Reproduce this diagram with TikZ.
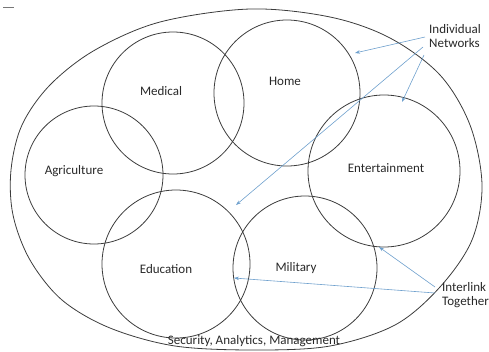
\documentclass[tikz,border=0pt]{standalone}
\usepackage{fontspec}
\setmainfont{Carlito}
\usetikzlibrary{arrows.meta}
\definecolor{ln}{RGB}{60,60,60}
\definecolor{arr}{RGB}{110,160,205}
\definecolor{txt}{RGB}{40,40,40}
\begin{document}
\begin{tikzpicture}[x=1pt,y=-1pt,
  ring/.style={draw=ln,line width=0.8pt,circle,inner sep=0pt},
  lab/.style={font=\fontsize{13}{14.5}\selectfont,text=txt,inner sep=1pt},
  arrw/.style={draw=arr,line width=0.6pt,-{Stealth[length=5pt,width=3.5pt]}}]
\useasboundingbox (0,0) rectangle (489,351);
\draw[ln!70,line width=0.8pt] (3,7) -- (14,7);
% outer egg shape
\draw[ln,line width=0.8pt] plot[smooth cycle,tension=0.55] coordinates {
  (250,9) (330,17) (390,38) (440,75) (470,125) (482,185) (472,240)
  (440,287) (395,325) (330,346) (255,350) (175,346) (110,328) (62,300)
  (30,260) (13,215) (11,170) (22,125) (50,85) (95,50) (160,22)};
% circles
\node[ring,minimum size=142pt] (medC) at (173,103) {};
\node[ring,minimum size=146pt] (homC) at (287,93) {};
\node[ring,minimum size=138pt] (agrC) at (94,175) {};
\node[ring,minimum size=152pt] (entC) at (384,171) {};
\node[ring,minimum size=148pt] (eduC) at (176,264) {};
\node[ring,minimum size=144pt] (milC) at (305,268) {};
% labels
\node[lab] (med) at (161,91) {Medical};
\node[lab] (hom) at (285,81) {Home};
\node[lab] (agr) at (74,171) {Agriculture};
\node[lab] (ent) at (386,168) {Entertainment};
\node[lab] (edu) at (166,269) {Education};
\node[lab] (mil) at (296,268) {Military};
\node[lab,align=left,anchor=west] (ind) at (428,36) {Individual\\[-1pt]Networks};
\node[lab,align=left,anchor=west] (int) at (441,295) {Interlink\\[-1pt]Together};
\node[lab] (sec) at (254,341) {Security, Analytics, Management};
% arrow targets
\coordinate (t1) at (355,53);
\coordinate (t2) at (236,205);
\coordinate (t3) at (402,102);
\coordinate (t4) at (379,247);
\coordinate (t5) at (234,278);
\draw[arrw] (425,37) -- (t1);
\draw[arrw] (423,47) -- (t2);
\draw[arrw] (424,55) -- (t3);
\draw[arrw] (435,287) -- (t4);
\draw[arrw] (435,293) -- (t5);
\end{tikzpicture}
\end{document}
